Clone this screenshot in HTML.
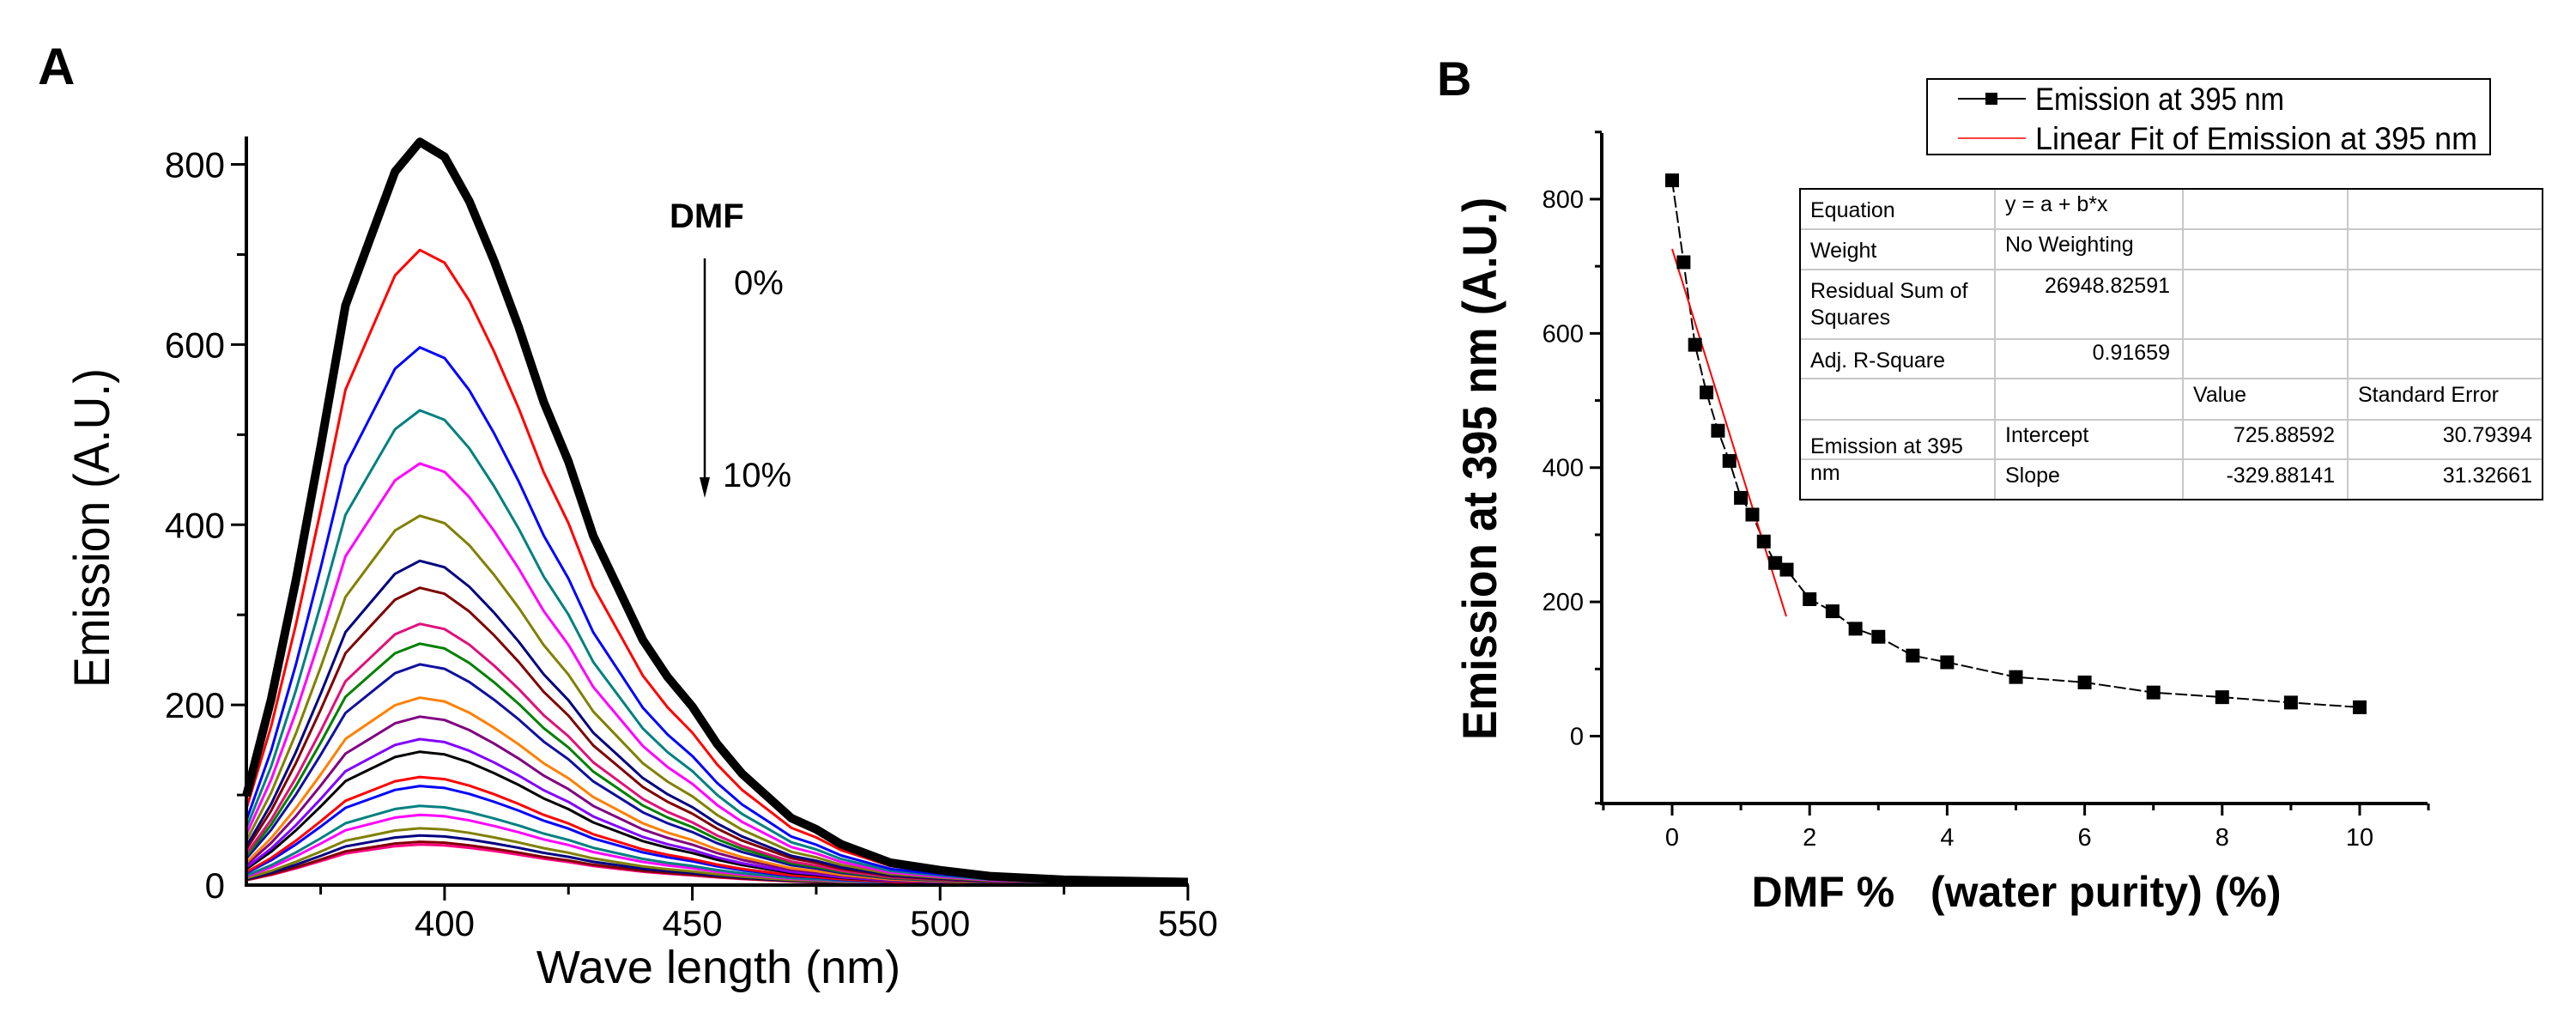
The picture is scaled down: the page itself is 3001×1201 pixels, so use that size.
<!DOCTYPE html>
<html><head><meta charset="utf-8"><style>
html,body{margin:0;padding:0;background:#fff;}
svg{display:block;font-family:"Liberation Sans",sans-serif;}
</style></head><body>
<svg id="fig" width="3001" height="1201" viewBox="0 0 3001 1201" xmlns="http://www.w3.org/2000/svg">
<g id="panelA"></g>
<g id="panelB"></g>
</svg>
<script>
// ---------- Panel A data ----------
const waveNm = [360,365,370,375,380,385,390,395,400,405,410,415,420,425,430,435,440,445,450,455,460,465,470,475,480,490,500,510,525,550];
const relShape = [0.12,0.25,0.41,0.59,0.78,0.87,0.96,1.0,0.98,0.92,0.84,0.75,0.65,0.57,0.47,0.40,0.33,0.28,0.24,0.19,0.15,0.12,0.09,0.075,0.055,0.03,0.02,0.012,0.007,0.004];
const peakValues = [825,705,597,527,468,410,360,330,290,268,245,208,187,162,148,120,110,88,78,63,55,48,45];
const curveColors = ["#000000","#ff0000","#0000ff","#008080","#ff00ff","#808000","#000080","#800000","#e0107a","#008000","#1010a0","#ff8000","#800080","#8000ff","#000000","#ff0000","#0000ff","#008080","#ff00ff","#808000","#000080","#800000","#ff0080"];
const aXTicks = [400,450,500,550];
const aYTicks = [0,200,400,600,800];
// ---------- Panel B data ----------
const dmfPct = [0,0.167,0.333,0.5,0.667,0.833,1,1.167,1.333,1.5,1.667,2,2.333,2.667,3,3.5,4,5,6,7,8,9,10];
const emission395 = [828,706,583,512,455,410,355,330,290,258,248,204,186,160,148,120,110,88,80,65,58,50,43];
const fitIntercept = 725.88592;
const fitSlope = -329.88141;
const fitRange = [0,1.66];
const bXTicks = [0,2,4,6,8,10];
const bYTicks = [0,200,400,600,800];

const NS="http://www.w3.org/2000/svg";
function mk(parent,tag,attrs,text){const e=document.createElementNS(NS,tag);for(const k in attrs)e.setAttribute(k,attrs[k]);if(text!==undefined)e.textContent=text;parent.appendChild(e);return e;}

// ---------- Panel A ----------
const A=document.getElementById('panelA');
const ax=v=>287+(v-360)*5.773;
const ay=v=>1031-v*1.0493;
let t=mk(A,'text',{x:44,y:98,'font-size':60,'font-weight':'bold'},'A');


for(let c=peakValues.length-1;c>=0;c--){
  let d='';
  waveNm.forEach((w,i)=>{d+=(i?'L':'M')+ax(w).toFixed(1)+','+ay(peakValues[c]*relShape[i]).toFixed(1);});
  const p=mk(A,'path',{d:d,fill:'none',stroke:curveColors[c],'stroke-width':c===0?10:3,'stroke-linejoin':'round'});
  
  
}
let axl=mk(A,'path',{d:`M287,159V1031H1385`,fill:'none',stroke:'#000','stroke-width':4});


for(let v=375;v<=550;v+=25){const major=v%50===0;mk(A,'line',{x1:ax(v),x2:ax(v),y1:1031,y2:major?1049:1042,stroke:'#000','stroke-width':3});}
for(let v=100;v<=800;v+=100){const major=v%200===0;mk(A,'line',{x1:287,x2:major?269:276,y1:ay(v),y2:ay(v),stroke:'#000','stroke-width':3});}
aXTicks.forEach(v=>{const e=mk(A,'text',{x:ax(v),y:1090,'font-size':42,'text-anchor':'middle'},v);
  
  });
aYTicks.forEach(v=>{const e=mk(A,'text',{x:262,y:ay(v)+15,'font-size':42,'text-anchor':'end'},v);
  
  });
t=mk(A,'text',{x:837,y:1145,'font-size':54,'text-anchor':'middle'},'Wave length (nm)');


t=mk(A,'text',{x:0,y:0,'font-size':58,'text-anchor':'middle',textLength:372,lengthAdjust:'spacingAndGlyphs',transform:'translate(127,615) rotate(-90)'},'Emission (A.U.)');


t=mk(A,'text',{x:780,y:265,'font-size':40,'font-weight':'bold'},'DMF');


t=mk(A,'line',{x1:821,y1:301,x2:821,y2:560,stroke:'#000','stroke-width':2.5});


mk(A,'path',{d:'M815,556L827,556L821,580Z',fill:'#000'});
t=mk(A,'text',{x:855,y:343,'font-size':40},'0%');


t=mk(A,'text',{x:842,y:567,'font-size':40},'10%');



// ---------- Panel B ----------
const B=document.getElementById('panelB');
const bx=v=>1948+v*80.1;
const by=v=>857.5-v*0.7819;
t=mk(B,'text',{x:1674,y:111,'font-size':56,'font-weight':'bold'},'B');


axl=mk(B,'path',{d:`M1866,155V936H2828`,fill:'none',stroke:'#000','stroke-width':4});


for(let v=-1;v<=11;v++){const major=v%2===0;mk(B,'line',{x1:bx(v),x2:bx(v),y1:936,y2:major?950:944,stroke:'#000','stroke-width':3});}
for(let v=-100;v<=900;v+=100){const major=v%200===0;mk(B,'line',{x1:1866,x2:major?1852:1858,y1:by(v),y2:by(v),stroke:'#000','stroke-width':3});}
bXTicks.forEach(v=>{const e=mk(B,'text',{x:bx(v),y:985,'font-size':29,'text-anchor':'middle'},v);
  
  });
bYTicks.forEach(v=>{const e=mk(B,'text',{x:1845,y:by(v)+10,'font-size':29,'text-anchor':'end'},v);
  
  });
t=mk(B,'text',{x:2349,y:1056,'font-size':50,'font-weight':'bold','text-anchor':'middle',textLength:617,lengthAdjust:'spacingAndGlyphs',style:'white-space:pre'},'DMF %   (water purity) (%)');


t=mk(B,'text',{x:0,y:0,'font-size':56,'font-weight':'bold','text-anchor':'middle',textLength:632,lengthAdjust:'spacingAndGlyphs',transform:'translate(1743,546) rotate(-90)'},'Emission at 395 nm (A.U.)');


let dl='';dmfPct.forEach((x,i)=>{dl+=(i?'L':'M')+bx(x).toFixed(1)+','+by(emission395[i]).toFixed(1);});
t=mk(B,'path',{d:dl,fill:'none',stroke:'#000','stroke-width':2,'stroke-dasharray':'14,4'});


t=mk(B,'line',{x1:bx(fitRange[0]),y1:by(fitIntercept+fitSlope*fitRange[0]),x2:bx(fitRange[1]),y2:by(fitIntercept+fitSlope*fitRange[1]),stroke:'#ff0000','stroke-width':2});


dmfPct.forEach((x,i)=>{const m=mk(B,'rect',{x:bx(x)-8,y:by(emission395[i])-8,width:16,height:16,fill:'#000'});
  
  });
// legend
const L=mk(B,'g',{});


mk(L,'rect',{x:2245,y:92,width:656,height:88,fill:'#fff',stroke:'#000','stroke-width':2});
mk(L,'line',{x1:2281,x2:2360,y1:115,y2:115,stroke:'#000','stroke-width':2});
mk(L,'rect',{x:2313,y:108,width:14,height:14,fill:'#000'});
t=mk(L,'text',{x:2371,y:128,'font-size':37,textLength:290,lengthAdjust:'spacingAndGlyphs'},'Emission at 395 nm');


mk(L,'line',{x1:2281,x2:2360,y1:161,y2:161,stroke:'#ff0000','stroke-width':1.5});
t=mk(L,'text',{x:2371,y:174,'font-size':37,textLength:515,lengthAdjust:'spacingAndGlyphs'},'Linear Fit of Emission at 395 nm');


// table
const T=mk(B,'g',{});


mk(T,'rect',{x:2097,y:220,width:865,height:362,fill:'#fff',stroke:'none'});
[2324,2543,2735].forEach(x=>mk(T,'line',{x1:x,x2:x,y1:220,y2:582,stroke:'#c8c8c8','stroke-width':2}));
[267,314,395,441,489,535].forEach(y=>mk(T,'line',{x1:2097,x2:2962,y1:y,y2:y,stroke:'#c8c8c8','stroke-width':2}));
mk(T,'rect',{x:2097,y:220,width:865,height:362,fill:'none',stroke:'#000','stroke-width':2});
const cells=[
 [2109,253,'start','Equation'],[2336,246,'start','y = a + b*x'],
 [2109,300,'start','Weight'],[2336,293,'start','No Weighting'],
 [2109,347,'start','Residual Sum of'],[2109,378,'start','Squares'],[2528,341,'end','26948.82591'],
 [2109,428,'start','Adj. R-Square'],[2528,419,'end','0.91659'],
 [2555,468,'start','Value'],[2747,468,'start','Standard Error'],
 [2109,528,'start','Emission at 395'],[2109,559,'start','nm'],
 [2336,515,'start','Intercept'],[2720,515,'end','725.88592'],[2950,515,'end','30.79394'],
 [2336,562,'start','Slope'],[2720,562,'end','-329.88141'],[2950,562,'end','31.32661']];
cells.forEach(c=>{const e=mk(T,'text',{x:c[0],y:c[1],'font-size':25,'text-anchor':c[2]},c[3]);
  
  });
</script>
</body></html>
